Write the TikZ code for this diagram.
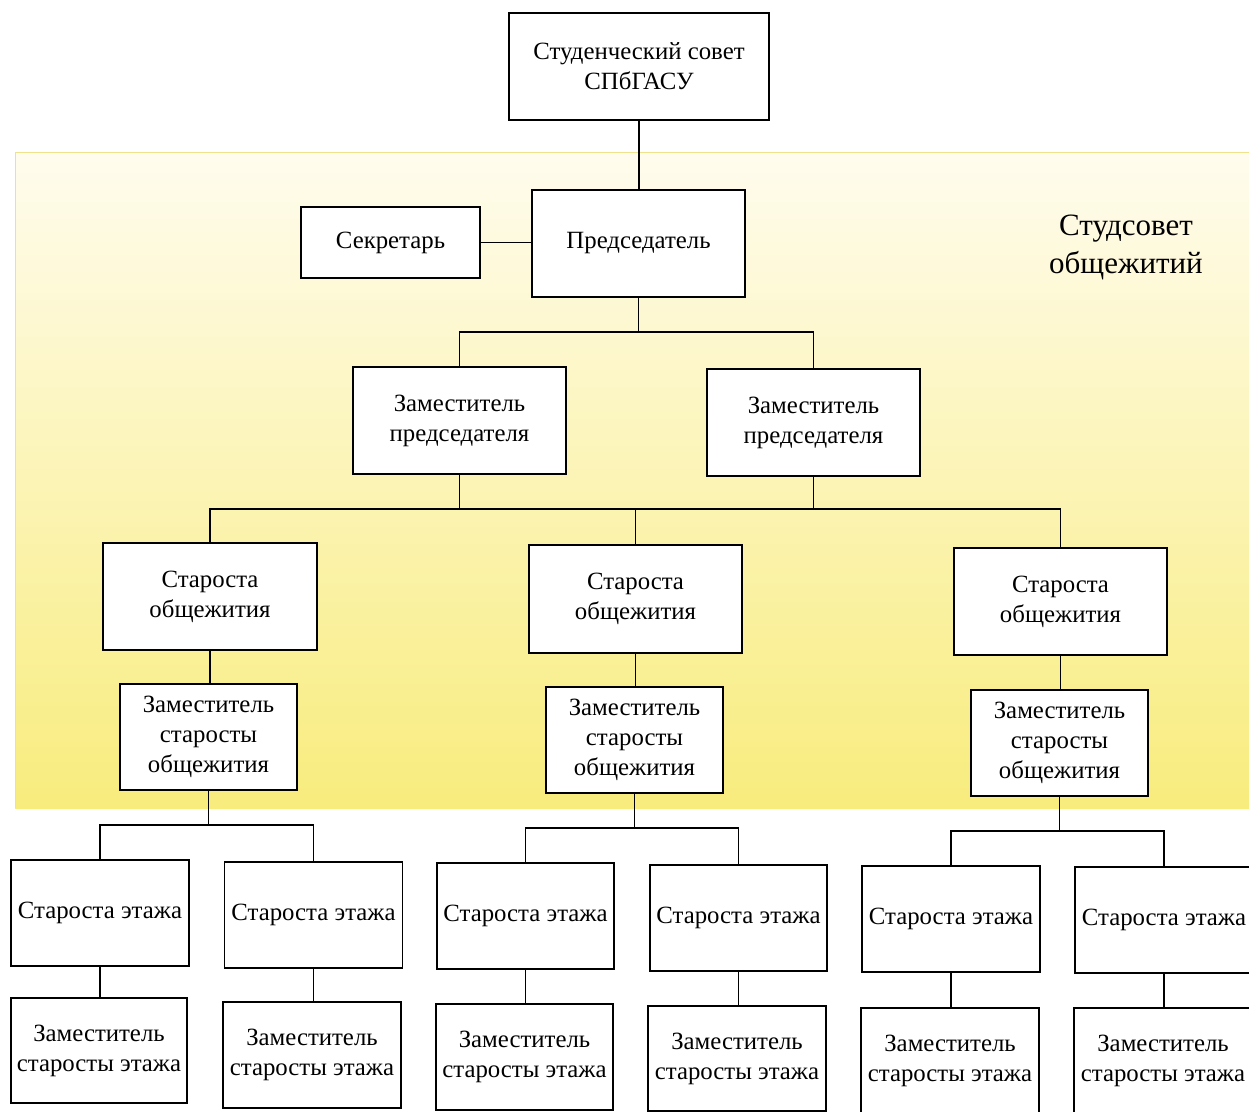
\documentclass[tikz,border=0pt]{standalone}
\usepackage{fontspec}
\setmainfont{Liberation Serif}
\definecolor{bgtop}{RGB}{255,252,238}
\definecolor{bgmid}{RGB}{252,246,200}
\definecolor{bgbot}{RGB}{248,236,125}
\definecolor{bgedge}{RGB}{240,226,140}
\begin{document}
\begin{tikzpicture}[x=1pt,y=-1pt,
  box/.style={draw, line width=1.9pt, fill=white, align=center, inner sep=0pt,
    font=\fontsize{24.8}{30}\selectfont},
  conn/.style={line width=1.9pt}]
\useasboundingbox (0,0) rectangle (1249,1111);
% background band
\shade[top color=bgtop, middle color=bgmid, bottom color=bgbot] (15,152) rectangle (1249,808);
\draw[bgedge, line width=0.8pt] (1249,152) -- (15,152) -- (15,808);
\node[font=\fontsize{31}{38}\selectfont, align=center] (title) at (1126,247) {Студсовет\\общежитий};
% nodes
\node[box, minimum width=260, minimum height=107] (top) at (639,66.5) {Студенческий совет\\СПбГАСУ};
\node[box, minimum width=179, minimum height=71] (sec) at (390.5,242.5) {Секретарь};
\node[box, minimum width=213, minimum height=107] (pred) at (638.5,243.5) {Председатель};
\node[box, minimum width=213, minimum height=107] (d1) at (459.5,420.5) {Заместитель\\председателя};
\node[box, minimum width=213, minimum height=107] (d2) at (813.5,422.5) {Заместитель\\председателя};
\node[box, minimum width=214, minimum height=107] (s1) at (210,596.5) {Староста\\общежития};
\node[box, minimum width=213, minimum height=108] (s2) at (635.5,599) {Староста\\общежития};
\node[box, minimum width=213, minimum height=107] (s3) at (1060.5,601.5) {Староста\\общежития};
\node[box, minimum width=177, minimum height=106] (z1) at (208.5,737) {Заместитель\\старосты\\общежития};
\node[box, minimum width=177, minimum height=106] (z2) at (634.5,740) {Заместитель\\старосты\\общежития};
\node[box, minimum width=177, minimum height=106] (z3) at (1059.5,743) {Заместитель\\старосты\\общежития};
\node[box, minimum width=178, minimum height=106] (f1) at (100,913) {Староста этажа};
\node[box, minimum width=178, minimum height=106] (f2) at (313.5,915) {Староста этажа};
\node[box, minimum width=177, minimum height=106] (f3) at (525.5,916) {Староста этажа};
\node[box, minimum width=177, minimum height=106] (f4) at (738.5,918) {Староста этажа};
\node[box, minimum width=178, minimum height=106] (f5) at (951,919) {Староста этажа};
\node[box, minimum width=178, minimum height=106] (f6) at (1164,920) {Староста этажа};
\node[box, minimum width=176, minimum height=105] (g1) at (99,1050.5) {Заместитель\\старосты этажа};
\node[box, minimum width=178, minimum height=106] (g2) at (312,1055) {Заместитель\\старосты этажа};
\node[box, minimum width=177, minimum height=106] (g3) at (524.5,1057) {Заместитель\\старосты этажа};
\node[box, minimum width=178, minimum height=105] (g4) at (737,1058.5) {Заместитель\\старосты этажа};
\node[box, minimum width=178, minimum height=106] (g5) at (950,1061) {Заместитель\\старосты этажа};
\node[box, minimum width=178, minimum height=106] (g6) at (1163,1061) {Заместитель\\старосты этажа};
% bus coordinates
\coordinate (b1) at (638.5,332);
\coordinate (b2) at (636,509);
\coordinate (b3) at (208.5,825);
\coordinate (b4) at (634.5,828);
\coordinate (b5) at (1059.5,831);
% connectors
\draw[conn] (top.south) -- (top.south |- pred.north);
\draw[conn] (sec.east) -- (sec.east -| pred.west);
\draw[conn] (pred.south) -- (b1);
\draw[conn] (d1.north) |- (b1) -| (d2.north);
\draw[conn] (d1.south) -- (d1.south |- b2);
\draw[conn] (d2.south) -- (d2.south |- b2);
\draw[conn] (s1.north) |- (b2) -| (s3.north);
\draw[conn] (s2.north) -- (s2.north |- b2);
\draw[conn] (s1.south) -- (s1.south |- z1.north);
\draw[conn] (s2.south) -- (s2.south |- z2.north);
\draw[conn] (s3.south) -- (s3.south |- z3.north);
\draw[conn] (z1.south) -- (b3);
\draw[conn] (f1.north) |- (b3) -| (f2.north);
\draw[conn] (z2.south) -- (b4);
\draw[conn] (f3.north) |- (b4) -| (f4.north);
\draw[conn] (z3.south) -- (b5);
\draw[conn] (f5.north) |- (b5) -| (f6.north);
\draw[conn] (f1.south) -- (f1.south |- g1.north);
\draw[conn] (f2.south) -- (f2.south |- g2.north);
\draw[conn] (f3.south) -- (f3.south |- g3.north);
\draw[conn] (f4.south) -- (f4.south |- g4.north);
\draw[conn] (f5.south) -- (f5.south |- g5.north);
\draw[conn] (f6.south) -- (f6.south |- g6.north);
\end{tikzpicture}
\end{document}
